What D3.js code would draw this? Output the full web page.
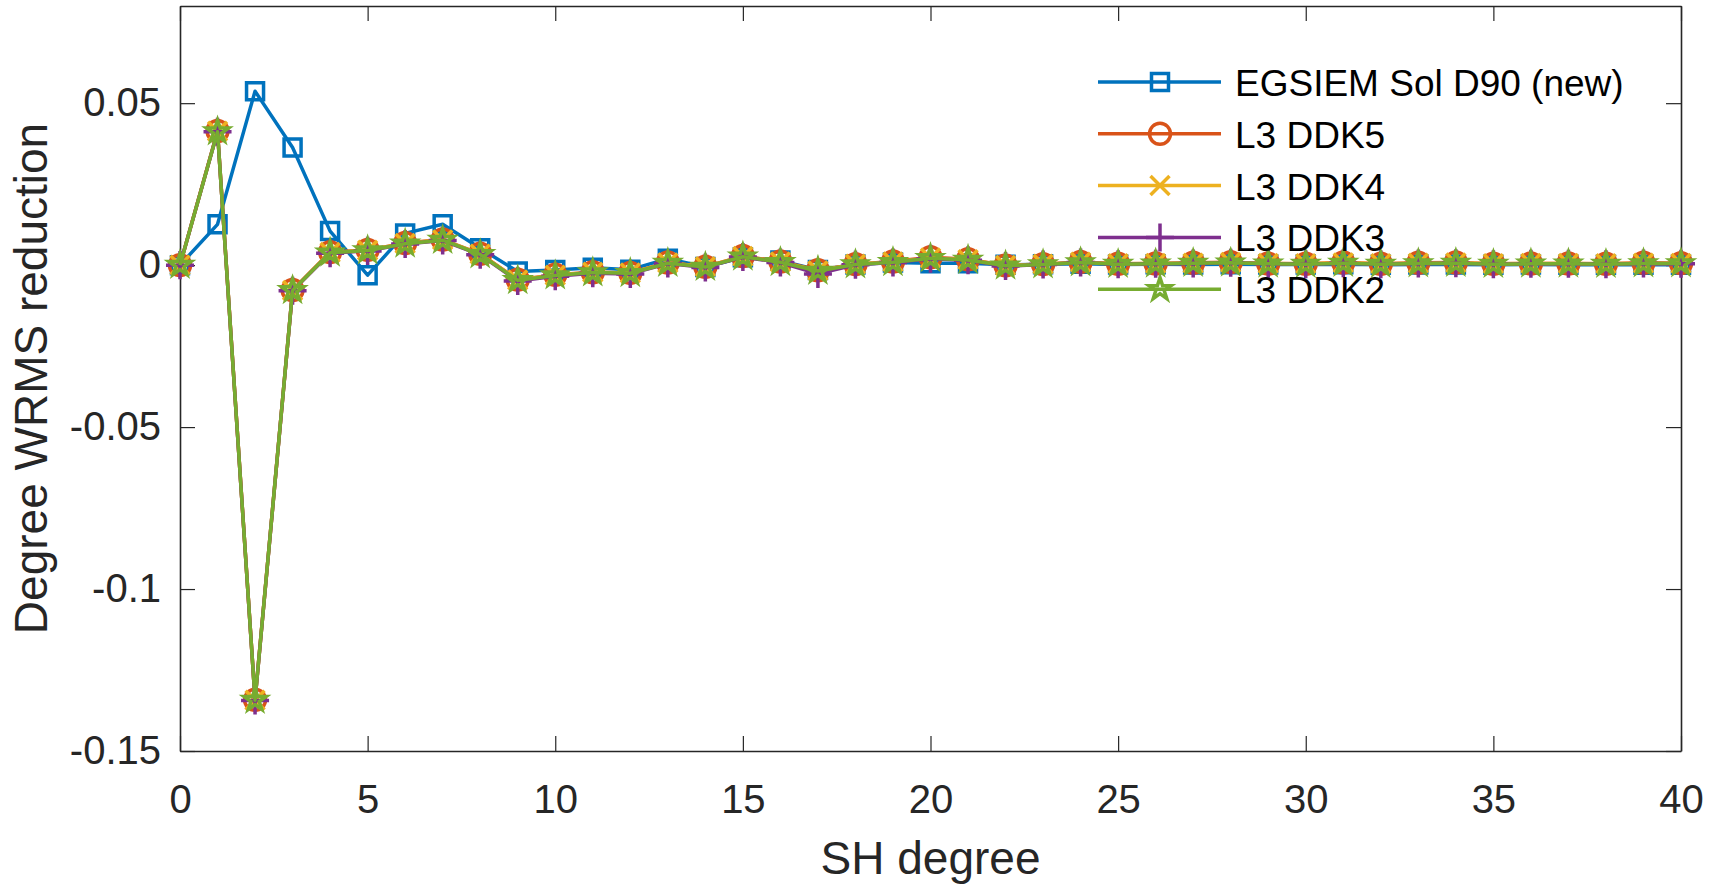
<!DOCTYPE html>
<html>
<head>
<meta charset="utf-8">
<script src="https://cdn.jsdelivr.net/npm/d3@7"></script>
<style>
  body { margin: 0; background: #fff; }
  text { font-family: "Liberation Sans", Arial, sans-serif; }
</style>
</head>
<body>
<div id="chart"></div>
<script>
// SH degrees on the x axis
var degrees = [0, 1, 2, 3, 4, 5, 6, 7, 8, 9, 10, 11, 12, 13, 14, 15, 16, 17, 18, 19, 20,
               21, 22, 23, 24, 25, 26, 27, 28, 29, 30, 31, 32, 33, 34, 35, 36, 37, 38, 39, 40];

// degree WRMS reduction per solution
var egsiemD90 = [0, 0.0126, 0.0537, 0.0363, 0.0105, -0.0031, 0.0098, 0.0126, 0.0052, -0.0020, -0.0015,
                 -0.0008, -0.0014, 0.0020, -0.0006, 0.0024, 0.0014, -0.0015, 0.0002, 0.0008, 0.0006,
                 0.0006, 0.0001, 0.0003, 0.0004, 0.0002, 0.0003, 0.0002, 0.0003, 0.0002, 0.0002,
                 0.0003, 0.0001, 0.0002, 0.0002, 0.0001, 0.0002, 0.0001, 0.0001, 0.0001, 0.0001];
var l3DDK5 = [0, 0.0414, -0.1342, -0.0077, 0.0040, 0.0047, 0.0068, 0.0079, 0.0035, -0.0045, -0.0030,
              -0.0022, -0.0024, 0.0008, -0.0005, 0.0028, 0.0011, -0.0016, 0.0003, 0.0011, 0.0024,
              0.0018, -0.0001, 0.0003, 0.0010, 0.0004, 0.0005, 0.0007, 0.0009, 0.0005, 0.0004,
              0.0008, 0.0004, 0.0007, 0.0008, 0.0004, 0.0005, 0.0005, 0.0004, 0.0007, 0.0006];
var l3DDK4 = [0, 0.0413, -0.1343, -0.0078, 0.0039, 0.0046, 0.0067, 0.0078, 0.0034, -0.0046, -0.0031,
              -0.0022, -0.0024, 0.0007, -0.0005, 0.0027, 0.0010, -0.0017, 0.0003, 0.0010, 0.0022,
              0.0017, -0.0001, 0.0003, 0.0009, 0.0004, 0.0005, 0.0006, 0.0008, 0.0005, 0.0004,
              0.0007, 0.0004, 0.0006, 0.0007, 0.0004, 0.0005, 0.0005, 0.0004, 0.0006, 0.0005];
var l3DDK3 = [0, 0.0412, -0.1344, -0.0079, 0.0037, 0.0044, 0.0065, 0.0076, 0.0032, -0.0049, -0.0034,
              -0.0025, -0.0027, 0.0005, -0.0007, 0.0025, 0.0008, -0.0027, 0.0001, 0.0008, 0.0020,
              0.0015, -0.0003, 0.0002, 0.0008, 0.0003, 0.0004, 0.0005, 0.0007, 0.0004, 0.0003,
              0.0006, 0.0003, 0.0005, 0.0006, 0.0003, 0.0004, 0.0004, 0.0003, 0.0005, 0.0004];
var l3DDK2 = [0, 0.0412, -0.1343, -0.0078, 0.0038, 0.0045, 0.0066, 0.0077, 0.0033, -0.0047, -0.0032,
              -0.0023, -0.0025, 0.0006, -0.0006, 0.0026, 0.0009, -0.0018, 0.0002, 0.0009, 0.0021,
              0.0016, -0.0002, 0.0002, 0.0008, 0.0003, 0.0004, 0.0006, 0.0007, 0.0004, 0.0003,
              0.0006, 0.0003, 0.0005, 0.0006, 0.0003, 0.0004, 0.0004, 0.0003, 0.0005, 0.0005];

var seriesNames = ["EGSIEM Sol D90 (new)", "L3 DDK5", "L3 DDK4", "L3 DDK3", "L3 DDK2"];
var xTicks = [0, 5, 10, 15, 20, 25, 30, 35, 40];
var yTicks = [-0.15, -0.1, -0.05, 0, 0.05];
var yTickLabels = ["-0.15", "-0.1", "-0.05", "0", "0.05"];

// styles (MATLAB default colour order and markers)
var seriesColors = ["#0072BD", "#D95319", "#EDB120", "#7E2F8E", "#77AC30"];
var seriesMarkers = [
    {type: d3.symbolSquare, size: 289},
    {type: d3.symbolCircle, size: 346},
    {type: d3.symbolTimes, size: 237},
    {type: d3.symbolPlus, size: 258},
    {type: d3.symbolStar, size: 150}
];

var seriesValues = [egsiemD90, l3DDK5, l3DDK4, l3DDK3, l3DDK2];
var series = seriesNames.map(function(name, i) {
    return {
        name: name,
        color: seriesColors[i],
        marker: seriesMarkers[i],
        points: degrees.map(function(d, j) { return {x: d, y: seriesValues[i][j]}; })
    };
});

var svgWidth = 1709;
var svgHeight = 886;
var chartMargin = {top: 6, right: 28, bottom: 135, left: 180};
var chartWidth = svgWidth - chartMargin.left - chartMargin.right;
var chartHeight = svgHeight - chartMargin.top - chartMargin.bottom;

var svg = d3.select("#chart")
    .append("svg")
    .attr("width", svgWidth)
    .attr("height", svgHeight);

var chartGroup = svg.append("g")
    .attr("transform", `translate(${chartMargin.left}, ${chartMargin.top})`);

var xScale = d3.scaleLinear().domain([0, 40]).range([0, chartWidth]);
var yScale = d3.scaleLinear().domain([-0.15, 0.08]).range([chartHeight, 0]);

var axisColor = "#262626";
var tickLen = 15;

// axes with inward ticks (box on, ticks mirrored)
var bottomAxis = d3.axisBottom(xScale).tickValues(xTicks).tickSizeInner(-tickLen).tickSizeOuter(0).tickPadding(34);
var topAxis = d3.axisTop(xScale).tickValues(xTicks).tickSizeInner(-tickLen).tickSizeOuter(0).tickFormat("");
var leftAxis = d3.axisLeft(yScale).tickValues(yTicks).tickSizeInner(-tickLen).tickSizeOuter(0).tickPadding(19)
    .tickFormat(function(d, i) { return yTickLabels[i]; });
var rightAxis = d3.axisRight(yScale).tickValues(yTicks).tickSizeInner(-tickLen).tickSizeOuter(0).tickFormat("");

function styleAxis(g) {
    g.select(".domain").attr("stroke", axisColor).attr("stroke-width", 1.6);
    g.selectAll(".tick line").attr("stroke", axisColor).attr("stroke-width", 1.2);
    g.selectAll(".tick text").attr("fill", axisColor).attr("font-size", "40px")
        .attr("font-family", "'Liberation Sans', Arial, sans-serif");
}

chartGroup.append("g").attr("transform", `translate(0, ${chartHeight})`).call(bottomAxis).call(styleAxis);
chartGroup.append("g").call(topAxis).call(styleAxis);
chartGroup.append("g").call(leftAxis).call(styleAxis);
chartGroup.append("g").attr("transform", `translate(${chartWidth}, 0)`).call(rightAxis).call(styleAxis);

// lines and markers
var line = d3.line()
    .x(function(d) { return xScale(d.x); })
    .y(function(d) { return yScale(d.y); });

series.forEach(function(s) {
    var g = chartGroup.append("g");
    g.append("path")
        .datum(s.points)
        .attr("fill", "none")
        .attr("stroke", s.color)
        .attr("stroke-width", 3.5)
        .attr("stroke-linejoin", "round")
        .attr("d", line);
    g.selectAll(".marker")
        .data(s.points)
        .enter()
        .append("path")
        .attr("class", "marker")
        .attr("transform", function(d) { return `translate(${xScale(d.x)}, ${yScale(d.y)})`; })
        .attr("d", d3.symbol().type(s.marker.type).size(s.marker.size))
        .attr("fill", "none")
        .attr("stroke", s.color)
        .attr("stroke-width", 3.5);
});

// legend (no box)
var legend = chartGroup.append("g")
    .attr("transform", `translate(${1098 - chartMargin.left}, ${82 - chartMargin.top})`);
series.forEach(function(s, i) {
    var row = legend.append("g").attr("transform", `translate(0, ${i * 51.8})`);
    row.append("line")
        .attr("x1", 0).attr("x2", 123)
        .attr("y1", 0).attr("y2", 0)
        .attr("stroke", s.color)
        .attr("stroke-width", 3.5);
    row.append("path")
        .attr("transform", "translate(62, 0)")
        .attr("d", d3.symbol().type(s.marker.type).size(s.marker.size))
        .attr("fill", "none")
        .attr("stroke", s.color)
        .attr("stroke-width", 3.5);
    row.append("text")
        .attr("x", 137)
        .attr("y", 14)
        .attr("font-size", "37px")
        .attr("fill", "#000")
        .text(s.name);
});

// axis titles
chartGroup.append("text")
    .attr("transform", `translate(${chartWidth / 2}, ${874 - chartMargin.top})`)
    .attr("text-anchor", "middle")
    .attr("font-size", "46px")
    .attr("fill", axisColor)
    .text("SH degree");

chartGroup.append("text")
    .attr("transform", `translate(${47 - chartMargin.left}, ${chartHeight / 2}) rotate(-90)`)
    .attr("text-anchor", "middle")
    .attr("font-size", "46px")
    .attr("fill", axisColor)
    .text("Degree WRMS reduction");
</script>
</body>
</html>
